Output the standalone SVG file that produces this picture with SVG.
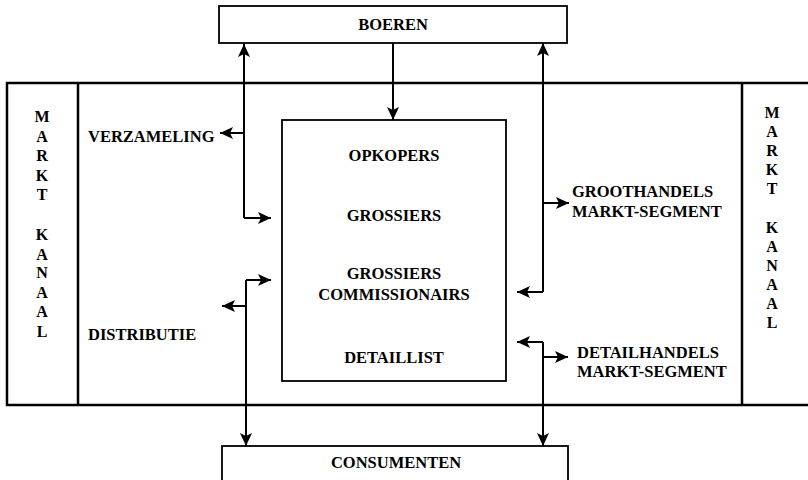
<svg xmlns="http://www.w3.org/2000/svg" width="808" height="480" viewBox="0 0 808 480">
<defs>
<style>
text{font-family:"Liberation Serif","Times New Roman",serif;font-weight:bold;font-size:16.5px;fill:#000}
.c{text-anchor:middle}
.box{fill:#fff;stroke:#000;stroke-width:1.8}
.frame{fill:none;stroke:#000;stroke-width:2.5}
.conn path{fill:none;stroke:#000;stroke-width:2}
.col{font-size:16px;text-anchor:middle}
</style>
<marker id="ah" markerUnits="userSpaceOnUse" markerWidth="14" markerHeight="12" refX="13" refY="6" orient="auto">
<path d="M0,0 L13,6 L0,12 L3,6 z" fill="#000"/>
</marker>
</defs>
<rect width="808" height="480" fill="#fff"/>
<g id="frame">
<path class="frame" d="M808,83 H7 V405 H808"/>
<path class="frame" d="M78,83 V405 M742,83 V405"/>
</g>
<g id="markt-kanaal-left">
<text class="col" x="42" y="122">M</text>
<text class="col" x="42" y="141.5">A</text>
<text class="col" x="42" y="161">R</text>
<text class="col" x="42" y="180.5">K</text>
<text class="col" x="42" y="200">T</text>
<text class="col" x="42" y="240">K</text>
<text class="col" x="42" y="259.5">A</text>
<text class="col" x="42" y="278">N</text>
<text class="col" x="42" y="297.5">A</text>
<text class="col" x="42" y="317">A</text>
<text class="col" x="42" y="337">L</text>
</g>
<g id="markt-kanaal-right">
<text class="col" x="772" y="118">M</text>
<text class="col" x="772" y="137">A</text>
<text class="col" x="772" y="156">R</text>
<text class="col" x="772" y="175">K</text>
<text class="col" x="772" y="194">T</text>
<text class="col" x="772" y="233">K</text>
<text class="col" x="772" y="252">A</text>
<text class="col" x="772" y="271">N</text>
<text class="col" x="772" y="290">A</text>
<text class="col" x="772" y="309">A</text>
<text class="col" x="772" y="328">L</text>
</g>
<g id="boeren">
<rect class="box" x="219" y="6" width="348" height="37"/>
<text class="c" x="393" y="30">BOEREN</text>
</g>
<g id="handel">
<rect class="box" x="282" y="120" width="224" height="261"/>
<text class="c" x="394" y="161">OPKOPERS</text>
<text class="c" x="394" y="221">GROSSIERS</text>
<text class="c" x="394" y="279">GROSSIERS</text>
<text class="c" x="394" y="300">COMMISSIONAIRS</text>
<text class="c" x="394" y="363">DETAILLIST</text>
</g>
<g id="consumenten">
<rect class="box" x="222" y="446" width="346" height="40"/>
<text class="c" x="396" y="468">CONSUMENTEN</text>
</g>
<g id="verzameling"><text x="88" y="142">VERZAMELING</text></g>
<g id="distributie"><text x="88" y="340">DISTRIBUTIE</text></g>
<g id="groothandels">
<text x="572" y="197">GROOTHANDELS</text>
<text x="572" y="217">MARKT-SEGMENT</text>
</g>
<g id="detailhandels">
<text x="577" y="358">DETAILHANDELS</text>
<text x="577" y="377">MARKT-SEGMENT</text>
</g>
<g id="connectors" class="conn">
<path d="M244,218 V44" marker-end="url(#ah)"/>
<path d="M244,133 H220" marker-end="url(#ah)"/>
<path d="M244,218 H271" marker-end="url(#ah)"/>
<path d="M393,43 V120" marker-end="url(#ah)"/>
<path d="M543,292 V43" marker-end="url(#ah)"/>
<path d="M543,203 H569" marker-end="url(#ah)"/>
<path d="M543,292 H517" marker-end="url(#ah)"/>
<path d="M246,280 V446" marker-end="url(#ah)"/>
<path d="M246,280 H271" marker-end="url(#ah)"/>
<path d="M246,306 H222" marker-end="url(#ah)"/>
<path d="M543,342 V446" marker-end="url(#ah)"/>
<path d="M543,342 H517" marker-end="url(#ah)"/>
<path d="M543,357 H568" marker-end="url(#ah)"/>
</g>
</svg>
